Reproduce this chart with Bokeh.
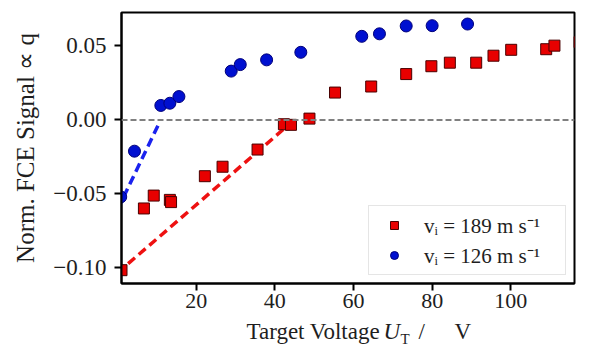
from bokeh.plotting import figure
from bokeh.layouts import column
from bokeh.models import (Range1d, FixedTicker, CustomJSTickFormatter, Span, Label,
                          ColumnDataSource, Legend, LegendItem)
from bokeh.embed import file_html
from bokeh.resources import INLINE

# ---- data ----
red_x = [1.0, 6.7, 9.2, 13.3, 13.6, 22.2, 26.7, 35.6, 42.3, 44.1, 48.8, 55.3, 64.5,
         73.4, 79.8, 84.5, 91.2, 95.6, 100.1, 109.0, 111.1, 117.5]
red_y = [-0.1015, -0.0598, -0.0511, -0.0540, -0.0555, -0.0380, -0.0316, -0.0200,
         -0.0029, -0.0033, 0.0009, 0.0185, 0.0226, 0.0310, 0.0363, 0.0387, 0.0387,
         0.0434, 0.0474, 0.0478, 0.0502, 0.0526]
blue_x = [0.8, 4.3, 11.0, 13.3, 15.6, 28.9, 31.2, 37.9, 46.6, 62.1, 66.6, 73.4, 80.0, 89.0]
blue_y = [-0.0520, -0.0211, 0.0098, 0.0113, 0.0158, 0.0330, 0.0374, 0.0406, 0.0457,
          0.0565, 0.0582, 0.0635, 0.0637, 0.0648]
red_fit_x = [0.0, 44.5]
red_fit_y = [-0.1033, -0.0010]
blue_fit_x = [0.0, 10.6]
blue_fit_y = [-0.0605, -0.0020]
x_ticks = [20, 40, 60, 80, 100]
y_ticks = [-0.10, -0.05, 0.00, 0.05]
red_label = "vᵢ = 189 m s⁻¹"
blue_label = "vᵢ = 126 m s⁻¹"
y_title = "Norm. FCE Signal ∝ q"
x_title_parts = ["Target Voltage", "U", "T", "/", "V"]

FONT = "Liberation Serif"
TXT = "#1e1e1e"

p = figure(width=576, height=318, output_backend="svg", toolbar_location=None,
           x_range=Range1d(1.0, 116.2), y_range=Range1d(-0.1105, 0.0726),
           min_border_left=121, min_border_right=2, min_border_top=12, min_border_bottom=35)
p.background_fill_color = "white"
p.border_fill_color = "white"
p.grid.visible = False
p.outline_line_color = "black"
p.outline_line_width = 2
p.frame_align = False

for ax in (p.xaxis[0], p.yaxis[0]):
    ax.axis_line_width = 2
    ax.axis_line_color = "black"
    ax.major_tick_line_width = 2
    ax.major_tick_line_color = "black"
    ax.major_tick_out = 7
    ax.major_tick_in = 0
    ax.minor_tick_line_color = None
    ax.major_label_text_font = FONT
    ax.major_label_text_font_size = "22px"
    ax.major_label_text_color = TXT

p.yaxis.major_label_text_font_size = "23px"
p.xaxis.ticker = FixedTicker(ticks=x_ticks)
p.yaxis.ticker = FixedTicker(ticks=y_ticks)
p.yaxis.formatter = CustomJSTickFormatter(
    code="return (tick < -1e-9 ? '\u2212' : '') + Math.abs(tick).toFixed(2);")
p.xaxis.major_label_standoff = 3
p.yaxis.major_label_standoff = 8

p.yaxis.axis_label = y_title
p.yaxis.axis_label_text_font = FONT
p.yaxis.axis_label_text_font_size = "25px"
p.yaxis.axis_label_text_font_style = "normal"
p.yaxis.axis_label_text_color = TXT
p.yaxis.axis_label_standoff = 11

# zero line
p.add_layout(Span(location=0, dimension="width", line_color="#808080",
                  line_width=2, line_dash="6 3"))

# fit lines
p.line(red_fit_x, red_fit_y, line_color="#ee1111", line_width=3.5, line_dash="9 5")
p.line(blue_fit_x, blue_fit_y, line_color="#1a22ee", line_width=3.5, line_dash="9 5")

src_r = ColumnDataSource(dict(x=red_x, y=red_y))
src_b = ColumnDataSource(dict(x=blue_x, y=blue_y))
r_red = p.scatter("x", "y", source=src_r, marker="square", size=11,
                  fill_color="#e80000", line_color="#4a0000", line_width=1)
r_blue = p.scatter("x", "y", source=src_b, marker="circle", size=12,
                   fill_color="#0010d0", line_color="#00007a", line_width=1)

legend = Legend(items=[LegendItem(label=red_label, renderers=[r_red]),
                       LegendItem(label=blue_label, renderers=[r_blue])],
                location="bottom_right")
legend.label_text_font = FONT
legend.label_text_font_size = "21px"
legend.label_text_color = TXT
legend.glyph_width = 40
legend.glyph_height = 20
legend.label_height = 20
legend.label_width = 136
legend.label_standoff = 10
legend.spacing = 2
legend.padding = 5
legend.margin = 8
legend.border_line_color = "#cccccc"
legend.border_line_width = 1.5
legend.background_fill_color = "white"
legend.background_fill_alpha = 0.85
p.add_layout(legend)

# x-axis title (with subscript) in a thin text strip below the plot
q = figure(width=576, height=27, output_backend="svg", toolbar_location=None,
           x_range=Range1d(0, 576), y_range=Range1d(0, 27),
           x_axis_type=None, y_axis_type=None, min_border=0)
q.grid.visible = False
q.outline_line_color = None
q.background_fill_color = "white"
q.border_fill_color = "white"
q.frame_align = False

pieces = [
    (x_title_parts[0], 246, 14, "23px", "normal"),
    (x_title_parts[1], 383, 14, "23px", "italic"),
    (x_title_parts[2], 400, 7, "15px", "normal"),
    (x_title_parts[3], 418, 14, "23px", "normal"),
    (x_title_parts[4], 454, 14, "23px", "normal"),
]
for txt, x, y, fs, st in pieces:
    q.add_layout(Label(x=x, y=y, x_units="screen", y_units="screen", text=txt,
                       text_font=FONT, text_font_size=fs, text_font_style=st,
                       text_color=TXT, text_baseline="middle", text_align="left"))

layout = column(p, q, spacing=0)
open("out.html", "w").write(file_html(layout, INLINE))
